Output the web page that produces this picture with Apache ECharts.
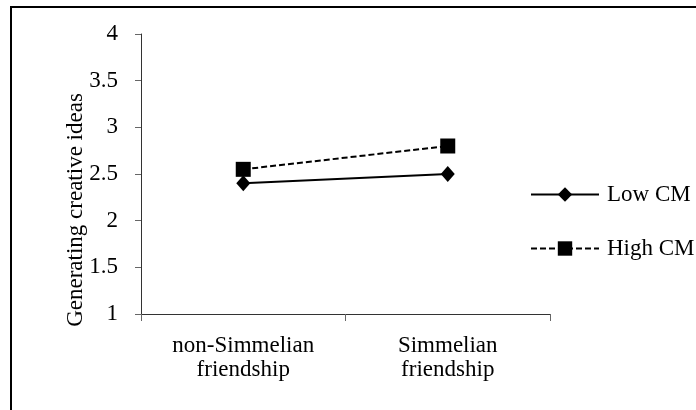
<!DOCTYPE html>
<html>
<head>
<meta charset="utf-8">
<script src="https://cdn.jsdelivr.net/npm/echarts@6/dist/echarts.min.js"></script>
<style>html,body{margin:0;padding:0;background:#fff;}#c{width:696px;height:410px;}</style>
</head>
<body>
<div id="c"></div>
<script>
var categories = ['non-Simmelian\nfriendship', 'Simmelian\nfriendship'];
var lowCM = [2.4, 2.5];
var highCM = [2.55, 2.8];
var seriesNames = ['Low CM', 'High CM'];
var yTitle = 'Generating creative ideas';

var font = 'Liberation Serif';
var chart = echarts.init(document.getElementById('c'), null, {renderer: 'canvas'});
chart.setOption({
  animation: false,
  backgroundColor: '#fff',
  textStyle: {fontFamily: font},
  grid: {left: 141, top: 34, right: 146, bottom: 96, containLabel: false},
  xAxis: {
    type: 'category',
    data: categories,
    boundaryGap: true,
    axisLine: {lineStyle: {color: '#333', width: 1}},
    axisTick: {show: true, inside: false, length: 7, alignWithLabel: false, lineStyle: {color: '#666'}},
    axisLabel: {color: '#000', fontSize: 23, fontFamily: font, margin: 20, lineHeight: 24, interval: 0}
  },
  yAxis: {
    type: 'value',
    min: 1, max: 4, interval: 0.5,
    splitLine: {show: false},
    axisLine: {show: true, lineStyle: {color: '#333', width: 1}},
    axisTick: {show: true, inside: false, length: 6, lineStyle: {color: '#666'}},
    axisLabel: {color: '#000', fontSize: 23, fontFamily: font, margin: 23}
  },
  legend: {
    orient: 'vertical',
    left: 530, top: 183, padding: 0,
    itemWidth: 68, itemHeight: 18, itemGap: 31,
    textStyle: {color: '#000', fontSize: 23, fontFamily: font, padding: [0, 0, 0, 3]},
    data: [
      {name: seriesNames[0]},
      {name: seriesNames[1]}
    ]
  },
  graphic: [
    {type: 'rect', shape: {x: 11, y: 7, width: 720, height: 440}, style: {fill: 'none', stroke: '#000', lineWidth: 2}, silent: true},
    {type: 'text', x: 76, y: 210, rotation: Math.PI / 2,
     style: {text: yTitle, fill: '#000', font: '23px "Liberation Serif"', align: 'center', verticalAlign: 'middle'}}
  ],
  series: [
    {
      name: seriesNames[0], type: 'line', data: lowCM,
      symbol: 'diamond', symbolSize: [14, 16],
      lineStyle: {color: '#000', width: 2, type: 'solid'},
      itemStyle: {color: '#000'}
    },
    {
      name: seriesNames[1], type: 'line', data: highCM,
      symbol: 'rect', symbolSize: 15,
      lineStyle: {color: '#000', width: 2, type: [6, 3]},
      itemStyle: {color: '#000'}
    }
  ]
});
</script>
</body>
</html>
